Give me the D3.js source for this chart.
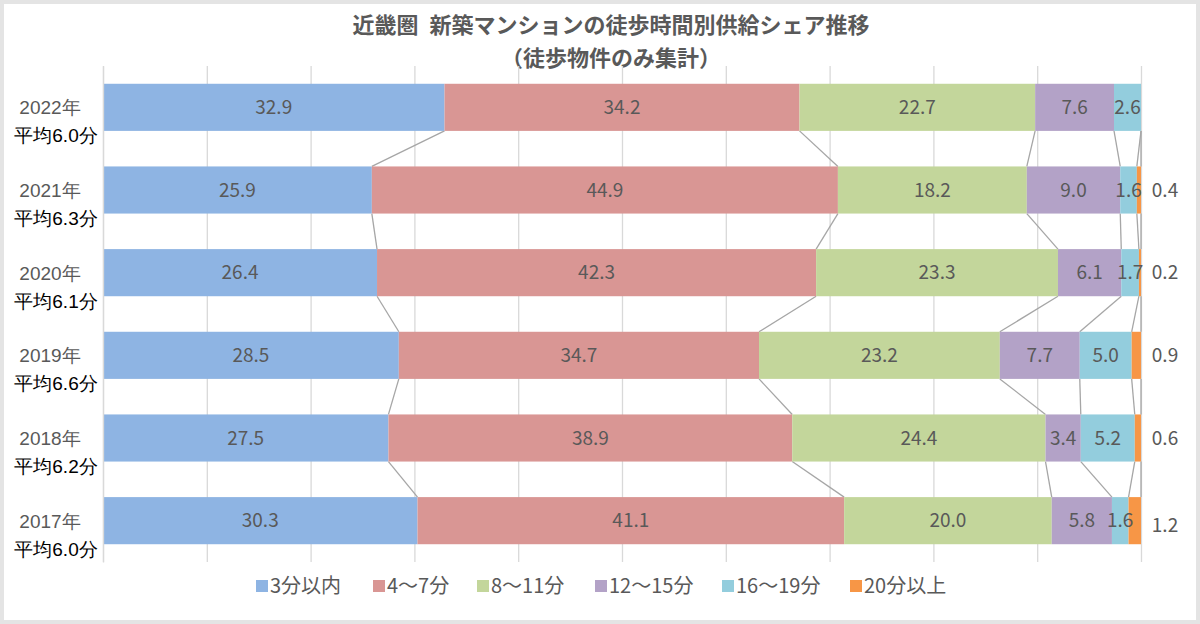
<!DOCTYPE html>
<html>
<head>
<meta charset="utf-8">
<script src="https://cdn.jsdelivr.net/npm/d3@7"></script>
<style>
  body { margin: 0; background: #e4e4e4; }
  svg { display: block; font-family: "Noto Sans CJK JP", "Noto Sans", sans-serif; }
</style>
</head>
<body>
<div id="chart"></div>
<script>
const years = ["2022年", "2021年", "2020年", "2019年", "2018年", "2017年"];
const averages = ["平均6.0分", "平均6.3分", "平均6.1分", "平均6.6分", "平均6.2分", "平均6.0分"];
const seriesNames = ["3分以内", "4～7分", "8～11分", "12～15分", "16～19分", "20分以上"];
const colors = ["#8EB4E3", "#D99694", "#C3D69B", "#B3A2C7", "#93CDDD", "#F79646"];

const within3 = [32.9, 25.9, 26.4, 28.5, 27.5, 30.3];
const min4to7 = [34.2, 44.9, 42.3, 34.7, 38.9, 41.1];
const min8to11 = [22.7, 18.2, 23.3, 23.2, 24.4, 20.0];
const min12to15 = [7.6, 9.0, 6.1, 7.7, 3.4, 5.8];
const min16to19 = [2.6, 1.6, 1.7, 5.0, 5.2, 1.6];
const over20 = [0, 0.4, 0.2, 0.9, 0.6, 1.2];
const allSeries = [within3, min4to7, min8to11, min12to15, min16to19, over20];

const gridTicks = d3.range(0, 101, 10);

const W = 1200, H = 624;
const margin = { top: 66, right: 59, bottom: 62, left: 103 };
const width = W - margin.left - margin.right;
const height = H - margin.top - margin.bottom;

const svg = d3.select("#chart").append("svg")
  .attr("width", W).attr("height", H);

svg.append("rect")
  .attr("x", 4).attr("y", 4)
  .attr("width", W - 8).attr("height", H - 8)
  .attr("fill", "#fff");

// title
svg.append("text")
  .attr("x", 611).attr("y", 33)
  .attr("text-anchor", "middle")
  .attr("font-size", 22).attr("font-weight", "bold")
  .attr("fill", "#595959")
  .text("近畿圏\u2002新築マンションの徒歩時間別供給シェア推移");
svg.append("text")
  .attr("x", 611).attr("y", 66)
  .attr("text-anchor", "middle")
  .attr("font-size", 22).attr("font-weight", "bold")
  .attr("fill", "#595959")
  .text("（徒歩物件のみ集計）");

const g = svg.append("g")
  .attr("transform", "translate(" + margin.left + "," + margin.top + ")");

const x = d3.scaleLinear().domain([0, 100]).range([0, width]);
const y = d3.scaleBand().domain(years).range([0, height]).paddingInner(0.43).paddingOuter(0.215);

// gridlines
g.append("g")
  .attr("class", "grid")
  .attr("transform", "translate(0," + height + ")")
  .call(d3.axisBottom(x).tickValues(gridTicks).tickSize(-height).tickFormat(""))
  .call(s => s.select(".domain").remove())
  .call(s => s.selectAll("line").attr("stroke", "#d9d9d9").attr("stroke-width", 1.3));

// stack data
const rows = years.map((yr, i) => {
  const r = { year: yr };
  seriesNames.forEach((n, k) => { r[n] = allSeries[k][i]; });
  return r;
});
const stacked = d3.stack().keys(seriesNames)(rows);

// series lines
const lineData = [];
stacked.forEach((layer) => {
  for (let i = 0; i < years.length - 1; i++) {
    lineData.push({
      x1: x(layer[i][1]), y1: y(years[i]) + y.bandwidth(),
      x2: x(layer[i + 1][1]), y2: y(years[i + 1])
    });
  }
});
g.append("g").selectAll("line").data(lineData).join("line")
  .attr("x1", d => d.x1).attr("y1", d => d.y1)
  .attr("x2", d => d.x2).attr("y2", d => d.y2)
  .attr("stroke", "#a6a6a6").attr("stroke-width", 1.3);

// bars
const layers = g.append("g").selectAll("g").data(stacked).join("g")
  .attr("fill", (d, k) => colors[k]);
layers.selectAll("rect").data(d => d).join("rect")
  .attr("x", d => x(d[0]))
  .attr("y", d => y(d.data.year))
  .attr("width", d => x(d[1]) - x(d[0]))
  .attr("height", y.bandwidth());

// data labels
stacked.forEach((layer, k) => {
  g.append("g").selectAll("text").data(layer.filter(d => d[1] - d[0] > 0)).join("text")
    .attr("x", d => k === 5 ? width + 24 : (x(d[0]) + x(d[1])) / 2)
    .attr("y", d => y(d.data.year) + y.bandwidth() / 2 + (k === 5 && d.data.year === "2017年" ? 5 : 0))
    .attr("dy", "0.35em")
    .attr("text-anchor", "middle")
    .attr("font-size", 19)
    .attr("fill", "#595959")
    .text(d => (d[1] - d[0]).toFixed(1));
});

// y axis labels
const yAxis = g.append("g")
  .call(d3.axisLeft(y).tickSize(0).tickPadding(0));
yAxis.select(".domain").attr("stroke", "#d9d9d9").attr("stroke-width", 1.3);
yAxis.selectAll(".tick text").each(function (d, i) {
  const t = d3.select(this);
  t.text(null).attr("text-anchor", "middle").attr("x", -46).attr("dy", null);
  t.append("tspan").attr("x", -53).attr("y", 7)
    .attr("font-size", 19).attr("fill", "#595959").text(d);
  t.append("tspan").attr("x", -47).attr("y", 35)
    .attr("font-size", 19).attr("fill", "#000").text(averages[i]);
});

// legend
const legendX = [256, 373, 477, 595, 722, 850];
const legend = svg.append("g").selectAll("g").data(seriesNames).join("g")
  .attr("transform", (d, k) => "translate(" + legendX[k] + ",586)");
legend.append("rect")
  .attr("x", 0).attr("y", -6).attr("width", 12).attr("height", 12)
  .attr("fill", (d, k) => colors[k]);
legend.append("text")
  .attr("x", 14).attr("dy", "0.35em")
  .attr("font-size", 20).attr("fill", "#595959")
  .text(d => d);
</script>
</body>
</html>
